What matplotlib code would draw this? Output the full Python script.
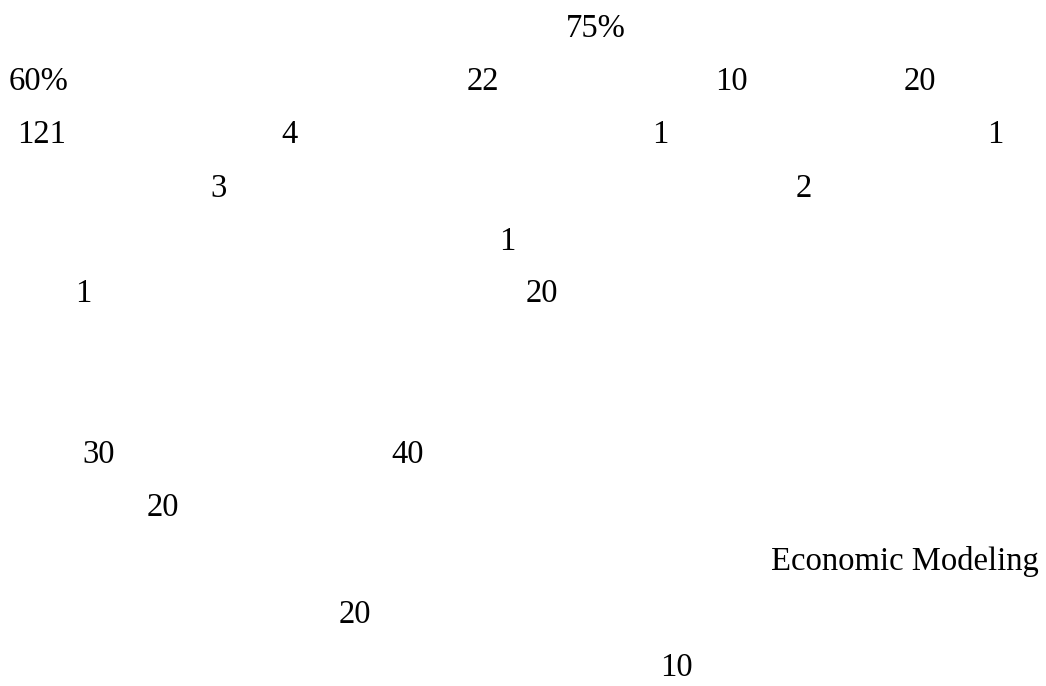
import matplotlib
matplotlib.use('Agg')
import matplotlib.pyplot as plt

# Text labels scattered over the canvas (pixel coordinates of a 1046x686 image)
labels = ['75%',
          '60%', '22', '10', '20',
          '121', '4', '1', '1',
          '3', '2',
          '1',
          '1', '20',
          '30', '40',
          '20',
          'Economic Modeling',
          '20',
          '10']
x_pos = [596,
         39, 483, 731, 920,
         42, 290, 660, 995,
         218, 804,
         507,
         83, 542,
         99, 408,
         163,
         905,
         355,
         676]
y_pos = [37,
         90, 90, 90, 90,
         143, 143, 143, 143,
         197, 197,
         250,
         302, 302,
         463, 463,
         516,
         570,
         623,
         676]

fig = plt.figure(figsize=(10.46, 6.86), dpi=100)
ax = fig.add_axes([0, 0, 1, 1])
ax.set_xlim(0, 1046)
ax.set_ylim(686, 0)
ax.axis('off')

for lab, x, y in zip(labels, x_pos, y_pos):
    ax.text(x, y, lab, ha='center', va='baseline', fontsize=23.5,
            family=['Liberation Serif', 'DejaVu Serif'], color='black')

plt.savefig('out.png', dpi=100, facecolor='white')
